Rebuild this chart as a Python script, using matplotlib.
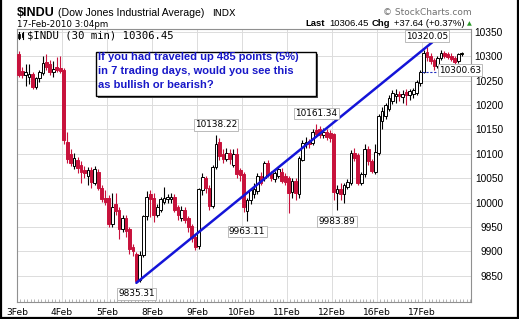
import matplotlib
matplotlib.use("Agg")
import matplotlib.pyplot as plt
from matplotlib.patches import Rectangle
from matplotlib.lines import Line2D
from matplotlib.ticker import MultipleLocator

# ---------------- data ----------------
days = ['3Feb', '4Feb', '5Feb', '8Feb', '9Feb', '10Feb', '11Feb', '12Feb', '16Feb', '17Feb']
bars_per_day = 13

# 30-minute OHLC bars (open, high, low, close)
feb03 = [(10305, 10310, 10258, 10262), (10270, 10278, 10255, 10262), (10262, 10285, 10240, 10268),
         (10258, 10284, 10243, 10264), (10264, 10268, 10232, 10237), (10237, 10258, 10232, 10255),
         (10255, 10272, 10248, 10268), (10265, 10301, 10262, 10287), (10288, 10305, 10272, 10278),
         (10285, 10292, 10262, 10268), (10268, 10290, 10258, 10273), (10278, 10298, 10268, 10272),
         (10276, 10300, 10266, 10270)]
feb04 = [(10272, 10275, 10120, 10128), (10125, 10145, 10082, 10090), (10100, 10110, 10075, 10082),
         (10074, 10102, 10068, 10092), (10088, 10094, 10060, 10070), (10078, 10085, 10040, 10062),
         (10066, 10075, 10050, 10060), (10055, 10072, 10035, 10066), (10066, 10072, 10030, 10042),
         (10040, 10074, 10035, 10068), (10062, 10068, 10026, 10030), (10030, 10035, 10002, 10008),
         (10010, 10025, 9995, 10002)]
feb05 = [(10010, 10015, 9950, 9955), (9955, 10020, 9950, 9990), (9998, 10020, 9975, 9982),
         (9985, 9990, 9925, 9945), (9945, 9975, 9940, 9968), (9968, 9975, 9930, 9942),
         (9945, 9950, 9895, 9905), (9908, 9915, 9890, 9900), (9895, 9898, 9835.31, 9840),
         (9842, 9900, 9838, 9892), (9892, 9975, 9888, 9972), (9972, 10023, 9965, 10012),
         (10018, 10025, 9970, 10008)]
feb08 = [(10010, 10020, 9960, 9975), (9975, 9998, 9970, 9990), (9985, 10012, 9980, 10008),
         (10002, 10031, 9998, 10010), (10008, 10018, 10000, 10012), (10008, 10020, 10000, 10012),
         (10012, 10018, 9980, 9985), (9990, 9995, 9965, 9975), (9968, 9992, 9962, 9985),
         (9985, 9990, 9958, 9965), (9968, 9972, 9940, 9950), (9952, 9955, 9920, 9928),
         (9930, 9935, 9902, 9908)]
feb09 = [(9910, 10030, 9905, 10028), (10025, 10060, 10015, 10052), (10050, 10055, 10020, 10030),
         (10030, 10035, 9985, 9992), (9992, 10078, 9988, 10073), (10072, 10138.22, 10068, 10120),
         (10125, 10132, 10088, 10095), (10100, 10110, 10082, 10090), (10090, 10112, 10085, 10102),
         (10102, 10110, 10080, 10090), (10078, 10110, 10072, 10100), (10100, 10112, 10050, 10058),
         (10066, 10070, 10045, 10056)]
feb10 = [(10058, 10062, 9980, 9990), (9982, 10010, 9963.11, 10005), (10005, 10030, 9998, 10025),
         (10018, 10040, 10010, 10028), (10024, 10060, 10018, 10055), (10055, 10062, 10035, 10040),
         (10050, 10085, 10045, 10082), (10082, 10088, 10052, 10058), (10058, 10065, 10045, 10050),
         (10048, 10065, 10042, 10060), (10055, 10075, 10050, 10068), (10062, 10070, 10040, 10045),
         (10055, 10060, 10035, 10042)]
feb11 = [(10050, 10055, 9978, 10020), (10022, 10050, 10010, 10045), (10045, 10050, 10005, 10020),
         (10018, 10095, 10010, 10092), (10088, 10128, 10085, 10122), (10120, 10135, 10112, 10125),
         (10126, 10130, 10112, 10120), (10122, 10150, 10118, 10145), (10148, 10161.34, 10135, 10140),
         (10150, 10158, 10132, 10138), (10138, 10152, 10132, 10145), (10145, 10150, 10128, 10135),
         (10142, 10148, 10125, 10132)]
feb12 = [(10140, 10142, 10005, 10022), (10020, 10035, 9983.89, 10028), (10028, 10040, 10005, 10018),
         (10018, 10040, 10000, 10035), (10032, 10048, 10028, 10042), (10040, 10108, 10036, 10102),
         (10102, 10112, 10085, 10092), (10098, 10102, 10035, 10040), (10040, 10062, 10035, 10058),
         (10058, 10120, 10052, 10110), (10110, 10115, 10078, 10085), (10085, 10090, 10060, 10065),
         (10062, 10120, 10058, 10103)]
feb16 = [(10102, 10182, 10098, 10178), (10168, 10195, 10150, 10188), (10178, 10205, 10172, 10200),
         (10192, 10220, 10188, 10215), (10208, 10230, 10202, 10225), (10218, 10232, 10205, 10222),
         (10222, 10228, 10208, 10218), (10216, 10230, 10205, 10222), (10226, 10232, 10200, 10220),
         (10220, 10232, 10210, 10228), (10222, 10236, 10215, 10230), (10225, 10252, 10220, 10248),
         (10246, 10272, 10240, 10268.81)]
feb17 = [(10268, 10312, 10265, 10306), (10308, 10320.05, 10290, 10298), (10300, 10306, 10284, 10290),
         (10292, 10296, 10272, 10280), (10280, 10300, 10275, 10296), (10296, 10312, 10292, 10306),
         (10306, 10310, 10296, 10300), (10304, 10308, 10294, 10298), (10300, 10306, 10290, 10294),
         (10296, 10300, 10284, 10289), (10290, 10306, 10286, 10304), (10304, 10309, 10300, 10306.45)]

prev_close = 10268.81
y_ticks = [9850, 9900, 9950, 10000, 10050, 10100, 10150, 10200, 10250, 10300, 10350]
high_labels = [10138.22, 10161.34, 10320.05]
low_labels = [9835.31, 9963.11, 9983.89]
extra_label = '10300.63'

# ---------------- figure ----------------
W, H = 519, 319
DPI = 100
fig = plt.figure(figsize=(W / DPI, H / DPI), dpi=DPI)
fig.patch.set_facecolor('white')


def fx(px):
    return px / W


def fy(py):
    return 1 - py / H


ax = fig.add_axes([fx(17), fy(302), (471 - 17) / W, (302 - 29) / H])
ax.set_facecolor('white')

bars = feb03 + feb04 + feb05 + feb08 + feb09 + feb10 + feb11 + feb12 + feb16 + feb17
RED = '#c8123c'
n = len(bars)
for i, (o, h, l, c) in enumerate(bars):
    x = i + 0.5
    up = c >= o
    col = 'black' if up else RED
    ax.vlines(x, l, h, color=col, lw=0.8, zorder=2)
    face = 'white' if up else RED
    if i == n - 1:
        face = '#ffff33'
        col = 'black'
    ax.bar(x, max(abs(c - o), 0.9), bottom=min(o, c), width=0.8,
           facecolor=face, edgecolor=col, lw=0.7, zorder=3)

# trend line from the low to the high
lows = [b[2] for b in bars]
highs = [b[1] for b in bars]
i_lo = lows.index(min(lows))
i_hi = highs.index(max(highs))
slope = (highs[i_hi] - lows[i_lo]) / (i_hi - i_lo)
x_end = i_hi + 0.5 + 1.5
ax.plot([i_lo + 0.5, x_end], [lows[i_lo], highs[i_hi] + slope * 1.5],
        color='#1414d8', lw=1.8, zorder=5, solid_capstyle='round')

# previous close dashed line
start17 = bars_per_day * (len(days) - 1)
ax.hlines(prev_close, start17, start17 + 6, colors='#2030c0', linestyles=(0, (2, 1.5)),
          lw=0.8, zorder=4)

# axes limits / grids
ax.set_xlim(0, 131.2)
ax.set_ylim(9796, 10356)
ax.set_xticks([bars_per_day * d for d in range(len(days))])
ax.set_xticklabels(days, fontsize=6.6, family='DejaVu Sans')
ax.xaxis.set_minor_locator(MultipleLocator(1))
ax.tick_params(axis='x', which='major', length=0, pad=4.5)
ax.tick_params(axis='x', which='minor', length=2, direction='in', color='#aaaaaa', width=0.6)
ax.set_yticks(y_ticks)
ax.set_yticklabels([str(v) for v in y_ticks], fontsize=7.3, family='Liberation Sans')
ax.yaxis.tick_right()
ax.tick_params(axis='y', length=0, pad=23)
for lab in ax.get_yticklabels():
    lab.set_horizontalalignment('right')
ax.grid(True, color='#dcdcdc', lw=0.7, zorder=0)
ax.set_axisbelow(True)
for s in ax.spines.values():
    s.set_color('#909090')
    s.set_linewidth(0.8)

# value labels
bbox_lab = dict(boxstyle='square,pad=0.15', fc='white', ec='#b0b0b0', lw=0.6)
for v in high_labels:
    i = highs.index(v)
    ax.annotate(f'{v:.2f}', (i + 0.5, v), xytext=(0, 7.5), textcoords='offset points',
                ha='center', va='center', fontsize=6.4, family='DejaVu Sans', bbox=bbox_lab, zorder=6)
for v in low_labels:
    i = lows.index(v)
    ax.annotate(f'{v:.2f}', (i + 0.5, v), xytext=(0, -8), textcoords='offset points',
                ha='center', va='center', fontsize=6.4, family='DejaVu Sans', bbox=bbox_lab, zorder=6)
ax.text((460 - 17) / 454, (302 - 70) / 273, extra_label, transform=ax.transAxes,
        ha='center', va='center', fontsize=6.4, family='DejaVu Sans', bbox=bbox_lab, zorder=6)

# legend line inside plot
ax.text((27 - 17) / 454, (302 - 35.5) / 273, '$INDU (30 min) 10306.45', transform=ax.transAxes,
        ha='left', va='center', fontsize=7.7, family='DejaVu Sans Mono', zorder=6)
fig.add_artist(Line2D([fx(19), fx(19)], [fy(32), fy(39)], color='black', lw=0.8))
fig.add_artist(Rectangle((fx(18.2), fy(38)), 1.6 / W, 4 / H, fc='white', ec='black', lw=0.6))
fig.add_artist(Line2D([fx(22.5), fx(22.5)], [fy(32), fy(39)], color='black', lw=0.8))
fig.add_artist(Rectangle((fx(21.7), fy(37)), 1.6 / W, 4 / H, fc='black', ec='black', lw=0.6))

# question box
fig.add_artist(Rectangle((fx(98), fy(98)), 220 / W, 44 / H, fc='#505050', ec='none', zorder=7))
fig.add_artist(Rectangle((fx(96), fy(96)), 220 / W, 44 / H, fc='white', ec='black', lw=1.0, zorder=8))
q_lines = ['If you had traveled up 485 points (5%)',
           'in 7 trading days, would you see this',
           'as bullish or bearish?']
for k, line in enumerate(q_lines):
    fig.text(fx(98.5), fy(57.5 + 14 * k), line, ha='left', va='center', fontsize=8.0,
             fontweight='bold', family='Liberation Sans', color='#1818c8', zorder=9)

# header texts
fig.text(fx(17), fy(13), '$INDU', ha='left', va='center', fontsize=9.0, fontweight='bold',
         family='Liberation Sans')
fig.text(fx(57.5), fy(13.5), '(Dow Jones Industrial Average)', ha='left', va='center', fontsize=7.6,
         family='Liberation Sans')
fig.text(fx(212), fy(13.5), 'INDX', ha='left', va='center', fontsize=6.8, family='DejaVu Sans')
fig.text(fx(17), fy(24.5), '17-Feb-2010 3:04pm', ha='left', va='center', fontsize=6.3,
         family='DejaVu Sans')
fig.text(fx(472), fy(12.5), '\u00a9 StockCharts.com', ha='right', va='center', fontsize=6.5,
         family='DejaVu Sans', color='#707070')

# "Last ... Chg ..." line, chained right-to-left
renderer = fig.canvas.get_renderer()
tri = fig.text(fx(472), fy(24), '\u25b2', ha='right', va='center', fontsize=4.5,
               family='DejaVu Sans', color='#2a9a2a')
pieces = [('+37.64 (+0.37%)', 'normal', 4), ('Chg', 'bold', 2.5), ('10306.45', 'normal', 4),
          ('Last', 'bold', 2.5)]
right_px = tri.get_window_extent(renderer).x0 - 3
for txt, wt, gap in pieces:
    t = fig.text(right_px / W, fy(24), txt, ha='right', va='center', fontsize=6.8,
                 fontweight=wt, family='Liberation Sans')
    right_px = t.get_window_extent(renderer).x0 - gap

# outer frame (left, right, bottom)
for (x0, y0, x1, y1) in [(0.8, 0, 0.8, 319), (518, 0, 518, 319), (0, 317.8, 519, 317.8)]:
    fig.add_artist(Line2D([fx(x0), fx(x1)], [fy(y0), fy(y1)], color='black', lw=1.6))

fig.savefig('out.png', dpi=DPI)
